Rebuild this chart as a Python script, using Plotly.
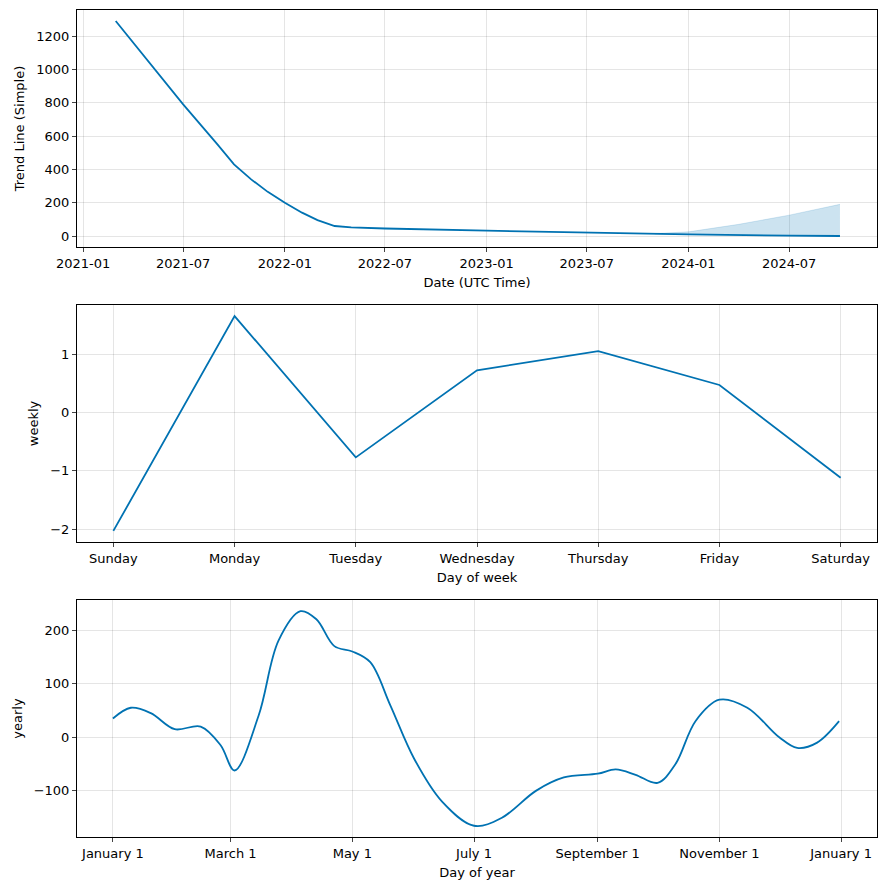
import plotly.graph_objects as go
from plotly.subplots import make_subplots

trend_dates = ["2021-03-01","2021-05-01","2021-07-01","2021-09-01","2021-10-01","2021-11-01","2021-12-01",
               "2022-01-01","2022-02-01","2022-03-01","2022-04-01","2022-05-01","2022-07-01","2023-01-01",
               "2023-07-01","2024-01-01","2024-07-01","2024-10-01"]
trend_vals = [1290,1040,790,550,430,340,265,200,140,95,60,52,45,32,20,10,2,0]
band_dates = ["2023-11-01","2024-01-01","2024-04-01","2024-07-01","2024-10-01"]
band_upper = [15,25,70,125,190]
band_lower = [12,9,4,0,-2]

days = ["Sunday","Monday","Tuesday","Wednesday","Thursday","Friday","Saturday"]
weekly = [-2.03,1.65,-0.77,0.72,1.05,0.47,-1.12]

year_dates = ["2017-01-01","2017-01-10","2017-01-20","2017-02-01","2017-02-14","2017-02-24","2017-03-03",
              "2017-03-15","2017-03-25","2017-04-05","2017-04-13","2017-04-22","2017-05-01","2017-05-10",
              "2017-05-20","2017-06-01","2017-06-15","2017-07-01","2017-07-15","2017-08-01","2017-08-15",
              "2017-09-01","2017-09-10","2017-09-20","2017-10-01","2017-10-10","2017-10-20","2017-11-01",
              "2017-11-15","2017-12-01","2017-12-10","2017-12-20","2017-12-31"]
yearly = [35,55,45,15,20,-15,-62,40,180,235,220,170,160,140,60,-40,-120,-165,-150,-100,-75,
          -68,-60,-70,-85,-50,30,70,55,0,-20,-10,30]

C = "#0072B2"
fig = make_subplots(rows=3, cols=1)
fig.add_trace(go.Scatter(x=band_dates, y=band_upper, mode="lines", line=dict(width=0.5, color="rgba(0,114,178,0.3)")), 1, 1)
fig.add_trace(go.Scatter(x=band_dates, y=band_lower, mode="lines", fill="tonexty",
                         fillcolor="rgba(0,114,178,0.2)", line=dict(width=0.5, color="rgba(0,114,178,0.3)")), 1, 1)
fig.add_trace(go.Scatter(x=trend_dates, y=trend_vals, mode="lines", line=dict(color=C, width=1.8)), 1, 1)
fig.add_trace(go.Scatter(x=days, y=weekly, mode="lines", line=dict(color=C, width=1.8)), 2, 1)
fig.add_trace(go.Scatter(x=year_dates, y=yearly, mode="lines", line=dict(color=C, width=1.8, shape="spline", smoothing=1)), 3, 1)

ax = dict(showline=True, mirror=True, linecolor="black", linewidth=1, ticks="outside", ticklen=4,
          gridcolor="rgba(0,0,0,0.1)", zeroline=False, tickfont=dict(size=13, color="black"),
          title_font=dict(size=13, color="black"), automargin=False)
fig.update_layout(width=878, height=882, showlegend=False, plot_bgcolor="white", paper_bgcolor="white",
                  font=dict(family="DejaVu Sans", color="black"),
                  margin=dict(l=69, r=9, t=2, b=53, autoexpand=False))
fig.update_layout(
    yaxis=dict(domain=[0.7134, 1], range=[-66, 1356], title=dict(text="Trend Line (Simple)", standoff=8), dtick=200, **ax),
    yaxis2=dict(domain=[0.3567, 0.6433], range=[-2.22, 1.84], title=dict(text="weekly", standoff=8), dtick=1, **ax),
    yaxis3=dict(domain=[0, 0.2866], range=[-186, 256], title=dict(text="yearly", standoff=8), dtick=100, **ax),
    xaxis=dict(range=["2020-12-21", "2024-12-07"], title=dict(text="Date (UTC Time)", standoff=8), dtick="M6", tickformat="%Y-%m", **ax),
    xaxis2=dict(range=[-0.3, 6.3], title=dict(text="Day of week", standoff=8), **ax),
    xaxis3=dict(range=["2016-12-14", "2018-01-19"], title=dict(text="Day of year", standoff=8), dtick="M2", tick0="2017-01-01",
                tickformat="%B %-d", **ax),
)
fig.write_html("out.html")
